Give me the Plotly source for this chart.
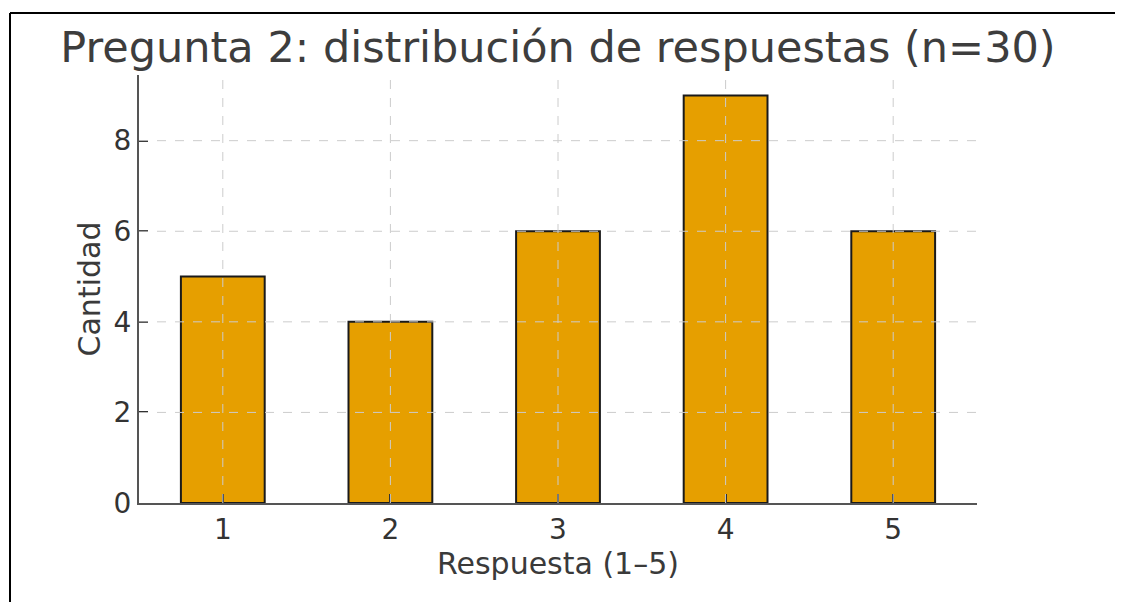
import plotly.graph_objects as go

categories = [1, 2, 3, 4, 5]
counts = [5, 4, 6, 9, 6]
y_ticks = [0, 2, 4, 6, 8]
title_text = "Pregunta 2: distribución de respuestas (n=30)"
x_label = "Respuesta (1–5)"
y_label = "Cantidad"

FONT = "DejaVu Sans"
W, H = 1123, 602
OFF = 8  # page body margin offset
L, R, T, B = 139 - OFF, 146 + OFF, 75 - OFF, 99 + OFF

fig = go.Figure(
    go.Bar(
        x=categories,
        y=counts,
        width=0.5,
        marker=dict(color="#E69F00", line=dict(color="#1a1a1a", width=2)),
        hoverinfo="x+y",
    )
)

shapes = []
for v in y_ticks[1:]:
    shapes.append(dict(type="line", xref="paper", yref="y", x0=0, x1=1, y0=v, y1=v,
                       line=dict(color="#cccccc", width=1, dash="dash"), layer="above"))
for c in categories:
    shapes.append(dict(type="line", xref="x", yref="paper", x0=c, x1=c, y0=0, y1=1,
                       line=dict(color="#cccccc", width=1, dash="dash"), layer="above"))

# outer frame (top and left edges visible in the reference crop)
pw = W - L - R
ph = H - T - B
fx = (10 - OFF - L) / pw
fy = 1 + (T - (13 - OFF)) / ph
shapes.append(dict(type="line", xref="paper", yref="paper", x0=fx, x1=(W + 5 - L) / pw, y0=fy, y1=fy,
                   line=dict(color="#000000", width=2), layer="above"))
shapes.append(dict(type="line", xref="paper", yref="paper", x0=fx, x1=fx, y0=fy, y1=-(B + 5) / ph,
                   line=dict(color="#000000", width=2), layer="above"))

fig.update_layout(
    width=W,
    height=H,
    margin=dict(l=L, r=R, t=T, b=B),
    paper_bgcolor="white",
    plot_bgcolor="white",
    showlegend=False,
    font=dict(family=FONT, color="#333333"),
    title=dict(text=title_text, font=dict(family=FONT, size=43, color="#3d3d3d"),
               x=0.5, xref="paper", xanchor="center", y=1 - (47 - OFF) / H, yref="container", yanchor="middle"),
    shapes=shapes,
    bargap=0.5,
)

fig.update_xaxes(
    range=[0.5, 5.5],
    tickvals=categories,
    ticktext=[str(c) for c in categories],
    tickfont=dict(family=FONT, size=28, color="#333333"),
    showline=True, linecolor="#555555", linewidth=2,
    ticks="inside", ticklen=9, tickwidth=2, tickcolor="#222222",
    showgrid=False, zeroline=False,
    layer="above traces",
    title=dict(text=x_label, font=dict(family=FONT, size=30, color="#3a3a3a"), standoff=6),
)
fig.update_yaxes(
    range=[0, 9.45],
    tickvals=y_ticks,
    tickfont=dict(family=FONT, size=28, color="#333333"),
    showline=True, linecolor="#555555", linewidth=2,
    ticks="inside", ticklen=9, tickwidth=2, tickcolor="#222222",
    showgrid=False, zeroline=False,
    layer="above traces",
    title=dict(text=y_label, font=dict(family=FONT, size=30, color="#3a3a3a"), standoff=4),
)

fig.write_html("out.html")
